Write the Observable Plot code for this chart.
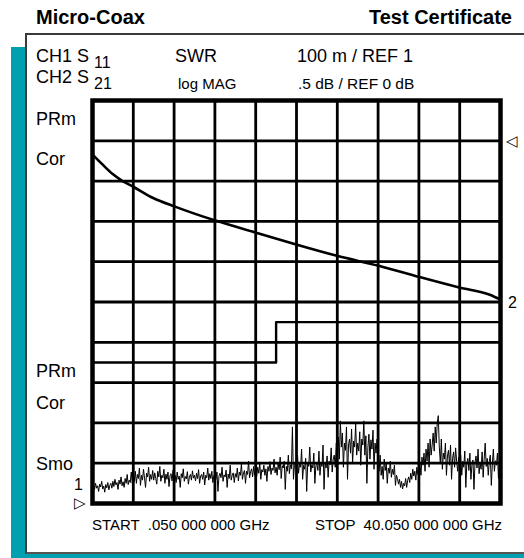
<!DOCTYPE html>
<html>
<head>
<meta charset="utf-8">
<script src="https://cdn.jsdelivr.net/npm/d3@7"></script>
<script src="https://cdn.jsdelivr.net/npm/@observablehq/plot@0.6"></script>
<style>
  html, body { margin: 0; padding: 0; background: #ffffff; }
  #wrap { position: relative; width: 524px; height: 558px; overflow: hidden; font-family: "Liberation Sans", Arial, sans-serif; }
  #teal { position: absolute; left: 11px; top: 47px; width: 513px; height: 511px; background: #00a0b0; }
  #box { position: absolute; left: 25px; top: 33px; width: 510px; height: 517px; background: #ffffff;
         border-top: 2px solid #3a3a3a; border-left: 2px solid #3a3a3a; border-bottom: 2px solid #555; }
  #chart { position: absolute; left: 0; top: 0; }
</style>
</head>
<body>
<div id="wrap">
  <div id="teal"></div>
  <div id="box"></div>
  <div id="chart"></div>
</div>
<script>
// ---- Sweep (GHz) ----
const startGHz = 0.05;
const stopGHz = 40.05;
const swrStepGHz = 0.1;

// ---- Grid (10 x 10 divisions) ----
const xGridGHz = [4.05, 8.05, 12.05, 16.05, 20.05, 24.05, 28.05, 32.05, 36.05];
const yGridDb = [0, -0.5, -1, -1.5, -2, -2.5, -3, -3.5, -4];
const dbTop = 0.5, dbBottom = -4.5;      // CH2: .5 dB/div, REF 0 dB
const swrRef = 1, swrPerDiv = 0.1;       // CH1: 100 m/div, REF 1

// ---- CH2 S21 insertion loss (dB) ----
const s21Freq = [0.05, 1, 2, 3, 4.05, 6, 8.2, 12.1, 16.1, 20.1, 24.1, 28.1, 32.1, 36, 39, 40.05];
const s21Loss = [-0.17, -0.29, -0.41, -0.50, -0.57, -0.71, -0.82, -0.99, -1.14, -1.29, -1.43, -1.55, -1.69, -1.82, -1.91, -1.97];

// ---- Limit line (dB) ----
const limitFreq = [0.05, 18.05, 18.05, 40.05];
const limitDb = [-2.75, -2.75, -2.25, -2.25];

// ---- CH1 S11 SWR trace (one reading every 0.1 GHz) ----
const swrValues = [
  1.040,1.046,1.035,1.050,1.038,1.044,1.030,1.048,1.041,1.055,1.036,1.043,1.028,1.047,1.039,1.052,1.034,1.045,1.050,1.038,
  1.055,1.042,1.060,1.046,1.052,1.035,1.058,1.048,1.066,1.044,1.054,1.040,1.062,1.050,1.072,1.047,1.058,1.052,1.078,1.050,
  1.068,1.055,1.080,1.050,1.072,1.062,1.088,1.045,1.070,1.058,1.085,1.063,1.040,1.075,1.066,1.090,1.055,1.072,1.060,1.082,
  1.058,1.076,1.062,1.048,1.080,1.066,1.092,1.055,1.070,1.064,1.085,1.050,1.073,1.060,1.078,1.042,1.069,1.074,1.056,1.083,
  1.062,1.070,1.052,1.078,1.060,1.068,1.040,1.074,1.064,1.086,1.055,1.067,1.061,1.079,1.048,1.066,1.072,1.058,1.081,1.063,
  1.070,1.056,1.075,1.062,1.084,1.050,1.068,1.072,1.060,1.078,1.046,1.070,1.064,1.088,1.058,1.074,1.062,1.080,1.052,1.069,
  1.072,1.060,1.078,1.030,1.068,1.075,1.064,1.090,1.055,1.071,1.066,1.083,1.040,1.073,1.062,1.095,1.058,1.070,1.076,1.052,
  1.074,1.065,1.088,1.056,1.078,1.070,1.098,1.060,1.076,1.082,1.050,1.080,1.072,1.105,1.064,1.079,1.086,1.066,1.092,1.070,
  1.082,1.068,1.090,1.075,1.100,1.060,1.084,1.078,1.095,1.070,1.086,1.055,1.092,1.080,1.104,1.072,1.088,1.082,1.110,1.076,
  1.090,1.070,1.098,1.084,1.115,1.062,1.094,1.088,1.105,1.035,1.092,1.080,1.120,1.074,1.096,1.086,1.190,1.060,1.095,1.102,
  1.088,1.120,1.075,1.098,1.090,1.135,1.060,1.095,1.085,1.112,1.030,1.100,1.092,1.140,1.078,1.096,1.088,1.125,1.050,1.094,
  1.098,1.082,1.130,1.070,1.100,1.092,1.145,1.035,1.102,1.088,1.118,1.065,1.105,1.096,1.138,1.078,1.110,1.120,1.090,1.150,
  1.130,1.165,1.110,1.205,1.140,1.175,1.090,1.150,1.132,1.190,1.060,1.145,1.160,1.125,1.185,1.100,1.155,1.140,1.198,1.120,
  1.150,1.130,1.178,1.095,1.160,1.145,1.205,1.120,1.168,1.050,1.140,1.172,1.110,1.158,1.135,1.182,1.085,1.150,1.125,1.160,
  1.100,1.080,1.120,1.070,1.092,1.060,1.110,1.082,1.098,1.050,1.088,1.075,1.105,1.065,1.085,1.072,1.095,1.045,1.070,1.062,
  1.048,1.060,1.040,1.055,1.036,1.050,1.044,1.062,1.040,1.058,1.066,1.052,1.075,1.060,1.085,1.068,1.080,1.058,1.090,1.072,
  1.085,1.100,1.070,1.115,1.095,1.125,1.080,1.135,1.105,1.150,1.090,1.160,1.120,1.145,1.175,1.130,1.190,1.150,1.200,1.218,
  1.140,1.100,1.160,1.085,1.125,1.110,1.150,1.070,1.118,1.132,1.095,1.145,1.060,1.112,1.128,1.090,1.138,1.105,1.080,1.115,
  1.098,1.120,1.070,1.105,1.090,1.130,1.040,1.100,1.112,1.082,1.125,1.060,1.096,1.108,1.035,1.102,1.118,1.088,1.135,1.074,
  1.100,1.085,1.128,1.065,1.110,1.150,1.092,1.112,1.070,1.104,1.120,1.045,1.098,1.135,1.080,1.106,1.095,1.125,1.062,1.100,
  1.095
];

const s21 = s21Freq.map((f, i) => ({f, db: s21Loss[i]}));
const limit = limitFreq.map((f, i) => ({f, db: limitDb[i]}));
const swr = swrValues.map((v, i) => ({f: startGHz + i * swrStepGHz, v}));
// CH1 shares the same 10 divisions: bottom line = REF 1
const swrToY = v => dbBottom + (v - swrRef) / swrPerDiv * 0.5;

const svg = Plot.plot({
  width: 524,
  height: 558,
  marginLeft: 92,
  marginRight: 24,
  marginTop: 100,
  marginBottom: 55,
  x: {domain: [startGHz, stopGHz], axis: null},
  y: {domain: [dbBottom, dbTop], axis: null},
  style: {background: "transparent", fontFamily: "Liberation Sans, Arial, sans-serif", overflow: "visible"},
  marks: [
    Plot.ruleX(xGridGHz, {stroke: "#000", strokeWidth: 2.8}),
    Plot.ruleY(yGridDb, {stroke: "#000", strokeWidth: 2.8}),
    Plot.line(limit, {x: "f", y: "db", stroke: "#000", strokeWidth: 2.4}),
    Plot.line(s21, {x: "f", y: "db", curve: "monotone-x", stroke: "#000", strokeWidth: 2.6}),
    Plot.line(swr, {x: "f", y: d => swrToY(d.v), stroke: "#000", strokeWidth: 1}),
    Plot.frame({stroke: "#000", strokeWidth: 4.5}),
    // reference / channel markers
    Plot.text([{f: stopGHz, db: 0}], {x: "f", y: "db", text: () => "◁", dx: 11, fontSize: 15, fill: "#000"}),
    Plot.text([s21[s21.length - 1]], {x: "f", y: "db", text: () => "2", dx: 12, dy: 3, fontSize: 16, fill: "#000"}),
    Plot.text([{f: startGHz, v: swrRef}], {x: "f", y: d => swrToY(d.v), text: () => "▷", dx: -13, fontSize: 15, fill: "#000"}),
    Plot.text([swr[0]], {x: "f", y: d => swrToY(d.v), text: () => "1", dx: -14, dy: -3, fontSize: 16, fill: "#000"})
  ]
});

const s = d3.select(svg);
function label(txt, x, y, opts = {}) {
  const t = s.append("text")
    .attr("x", x).attr("y", y)
    .attr("font-family", "Liberation Sans, Arial, sans-serif")
    .attr("font-size", opts.size || 18)
    .attr("font-weight", opts.bold ? "bold" : "normal")
    .attr("text-anchor", opts.anchor || "start")
    .attr("fill", "#000");
  t.text(txt);
  return t;
}
label("Micro-Coax", 36, 24, {bold: true, size: 20});
label("Test Certificate", 512, 24, {bold: true, size: 20, anchor: "end"});
const ch1 = label("CH1 S", 36, 62);
ch1.append("tspan").attr("dx", 5).attr("dy", 6).attr("font-size", 16).text("11");
const ch2 = label("CH2 S", 36, 83);
ch2.append("tspan").attr("dx", 5).attr("dy", 6).attr("font-size", 16).text("21");
label("SWR", 175, 62);
label("100 m / REF 1", 297, 62);
label("log MAG", 178, 89, {size: 15});
label(".5 dB / REF 0 dB", 298, 89, {size: 15.5});
label("PRm", 36, 125);
label("Cor", 36, 165);
label("PRm", 36, 377);
label("Cor", 36, 409);
label("Smo", 36, 470);
label("START  .050 000 000 GHz", 92, 530, {size: 15});
label("STOP  40.050 000 000 GHz", 502, 530, {size: 15, anchor: "end"});

document.getElementById("chart").appendChild(svg);
</script>
</body>
</html>
